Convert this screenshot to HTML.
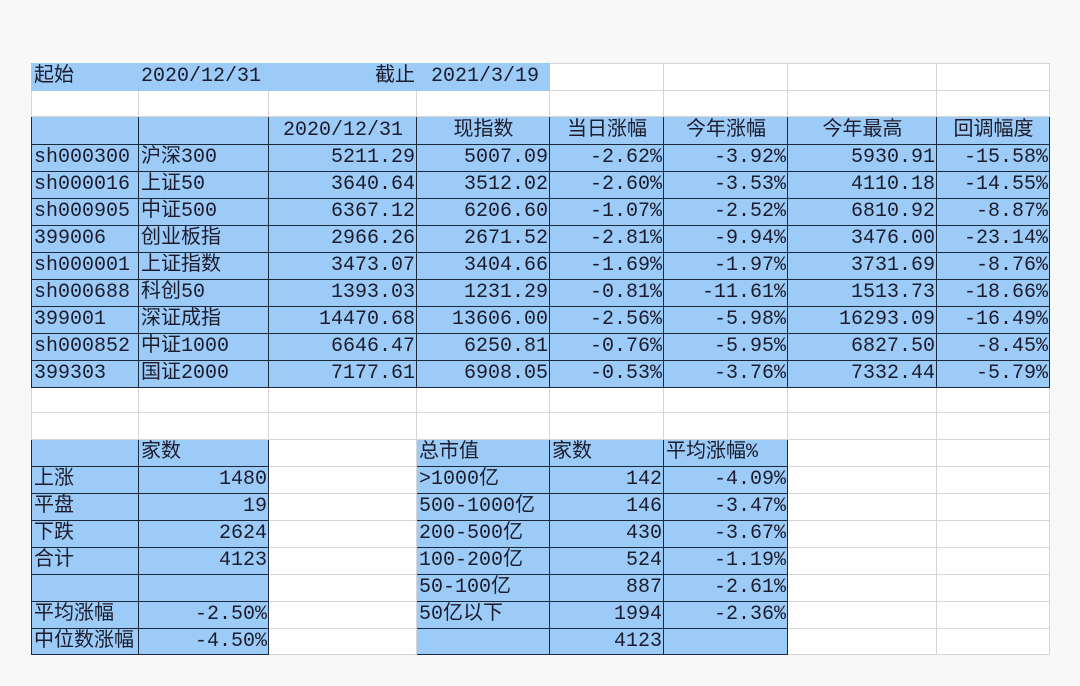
<!DOCTYPE html>
<html><head><meta charset="utf-8">
<style>
html,body{margin:0;padding:0;background:#f8f8f8;width:1080px;height:686px;overflow:hidden}
table{position:absolute;left:31px;top:63px;border-collapse:collapse;table-layout:fixed;background:#fff;
font-family:"Liberation Mono","Noto Sans CJK SC",monospace;font-size:20px;color:#1c1c2c}
td{border:1px solid #d6d6d6;padding:0 1px 0 2px;white-space:nowrap;overflow:hidden;line-height:20px}
td.b{background:#9ccbf8;border:1px solid #1a2a3a}
td.h{background:#9ccbf8;border:1px solid #9ccbf8}
.r{text-align:right}.c{text-align:center}
</style></head><body>
<table>
<colgroup><col style="width:107px"><col style="width:130px"><col style="width:148px"><col style="width:133px"><col style="width:114px"><col style="width:124px"><col style="width:149px"><col style="width:113px"></colgroup>
<tr style="height:27px"><td class="h">起始</td><td class="h">2020/12/31</td><td class="h r">截止</td><td class="h">&nbsp;2021/3/19</td><td></td><td></td><td></td><td></td></tr>
<tr style="height:26px"><td></td><td></td><td></td><td></td><td></td><td></td><td></td><td></td></tr>
<tr style="height:28px"><td class="b"></td><td class="b"></td><td class="b c">2020/12/31</td><td class="b c">现指数</td><td class="b c">当日涨幅</td><td class="b c">今年涨幅</td><td class="b c">今年最高</td><td class="b c">回调幅度</td></tr>
<tr style="height:27px"><td class="b">sh000300</td><td class="b">沪深300</td><td class="b r">5211.29</td><td class="b r">5007.09</td><td class="b r">-2.62%</td><td class="b r">-3.92%</td><td class="b r">5930.91</td><td class="b r">-15.58%</td></tr>
<tr style="height:27px"><td class="b">sh000016</td><td class="b">上证50</td><td class="b r">3640.64</td><td class="b r">3512.02</td><td class="b r">-2.60%</td><td class="b r">-3.53%</td><td class="b r">4110.18</td><td class="b r">-14.55%</td></tr>
<tr style="height:27px"><td class="b">sh000905</td><td class="b">中证500</td><td class="b r">6367.12</td><td class="b r">6206.60</td><td class="b r">-1.07%</td><td class="b r">-2.52%</td><td class="b r">6810.92</td><td class="b r">-8.87%</td></tr>
<tr style="height:27px"><td class="b">399006</td><td class="b">创业板指</td><td class="b r">2966.26</td><td class="b r">2671.52</td><td class="b r">-2.81%</td><td class="b r">-9.94%</td><td class="b r">3476.00</td><td class="b r">-23.14%</td></tr>
<tr style="height:27px"><td class="b">sh000001</td><td class="b">上证指数</td><td class="b r">3473.07</td><td class="b r">3404.66</td><td class="b r">-1.69%</td><td class="b r">-1.97%</td><td class="b r">3731.69</td><td class="b r">-8.76%</td></tr>
<tr style="height:27px"><td class="b">sh000688</td><td class="b">科创50</td><td class="b r">1393.03</td><td class="b r">1231.29</td><td class="b r">-0.81%</td><td class="b r">-11.61%</td><td class="b r">1513.73</td><td class="b r">-18.66%</td></tr>
<tr style="height:27px"><td class="b">399001</td><td class="b">深证成指</td><td class="b r">14470.68</td><td class="b r">13606.00</td><td class="b r">-2.56%</td><td class="b r">-5.98%</td><td class="b r">16293.09</td><td class="b r">-16.49%</td></tr>
<tr style="height:27px"><td class="b">sh000852</td><td class="b">中证1000</td><td class="b r">6646.47</td><td class="b r">6250.81</td><td class="b r">-0.76%</td><td class="b r">-5.95%</td><td class="b r">6827.50</td><td class="b r">-8.45%</td></tr>
<tr style="height:27px"><td class="b">399303</td><td class="b">国证2000</td><td class="b r">7177.61</td><td class="b r">6908.05</td><td class="b r">-0.53%</td><td class="b r">-3.76%</td><td class="b r">7332.44</td><td class="b r">-5.79%</td></tr>
<tr style="height:25px"><td></td><td></td><td></td><td></td><td></td><td></td><td></td><td></td></tr>
<tr style="height:27px"><td></td><td></td><td></td><td></td><td></td><td></td><td></td><td></td></tr>
<tr style="height:27px"><td class="b"></td><td class="b">家数</td><td></td><td class="b">总市值</td><td class="b">家数</td><td class="b">平均涨幅%</td><td></td><td></td></tr>
<tr style="height:27px"><td class="b">上涨</td><td class="b r">1480</td><td></td><td class="b">&gt;1000亿</td><td class="b r">142</td><td class="b r">-4.09%</td><td></td><td></td></tr>
<tr style="height:27px"><td class="b">平盘</td><td class="b r">19</td><td></td><td class="b">500-1000亿</td><td class="b r">146</td><td class="b r">-3.47%</td><td></td><td></td></tr>
<tr style="height:27px"><td class="b">下跌</td><td class="b r">2624</td><td></td><td class="b">200-500亿</td><td class="b r">430</td><td class="b r">-3.67%</td><td></td><td></td></tr>
<tr style="height:27px"><td class="b">合计</td><td class="b r">4123</td><td></td><td class="b">100-200亿</td><td class="b r">524</td><td class="b r">-1.19%</td><td></td><td></td></tr>
<tr style="height:27px"><td class="b"></td><td class="b"></td><td></td><td class="b">50-100亿</td><td class="b r">887</td><td class="b r">-2.61%</td><td></td><td></td></tr>
<tr style="height:27px"><td class="b">平均涨幅</td><td class="b r">-2.50%</td><td></td><td class="b">50亿以下</td><td class="b r">1994</td><td class="b r">-2.36%</td><td></td><td></td></tr>
<tr style="height:26px"><td class="b" style="text-overflow:clip">中位数涨幅</td><td class="b r">-4.50%</td><td></td><td class="b"></td><td class="b r">4123</td><td class="b"></td><td></td><td></td></tr>
</table>
</body></html>
